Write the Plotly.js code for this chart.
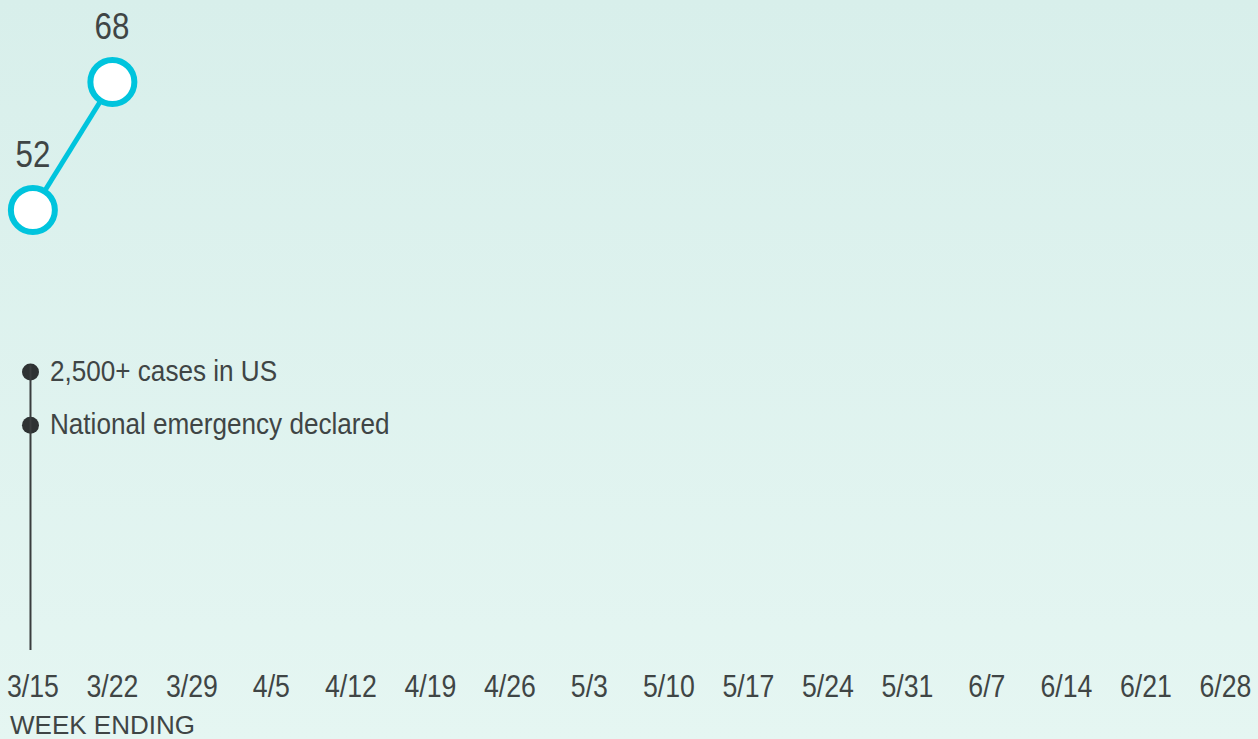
<!DOCTYPE html>
<html>
<head>
<meta charset="utf-8">
<script src="https://cdn.plot.ly/plotly-3.0.1.min.js"></script>
<style>
html,body{margin:0;padding:0;width:1258px;height:739px;overflow:hidden;
background:linear-gradient(to bottom,#d8efeb 0%,#e5f6f2 100%);}
#chart{width:1258px;height:739px;}
</style>
</head>
<body>
<div id="chart"></div>
<script>
const weeks = ['3/15','3/22','3/29','4/5','4/12','4/19','4/26','5/3','5/10','5/17','5/24','5/31','6/7','6/14','6/21','6/28'];
const seriesWeeks = ['3/15','3/22'];
const seriesValues = [52, 68];
const eventLabels = ['2,500+ cases in US','National emergency declared'];
const eventLevels = [31.75, 25.1];
const eventWeek = '3/15';

const FONT = '"Liberation Sans Narrow","Arial Narrow","Liberation Sans",Arial,sans-serif';
const TXT = '#3f4545';
const CYAN = '#00c4dd';

const xs = seriesWeeks.map(w => weeks.indexOf(w));

const trace = {
  x: xs,
  y: seriesValues,
  type: 'scatter',
  mode: 'lines+markers',
  line: {color: CYAN, width: 5},
  marker: {size: 44, color: '#ffffff', line: {color: CYAN, width: 6}},
  hoverinfo: 'none',
  cliponaxis: false
};

const ex = weeks.indexOf(eventWeek) - 0.03;
const eventTrace = {
  x: eventLevels.map(() => ex),
  y: eventLevels,
  type: 'scatter',
  mode: 'markers',
  marker: {size: 17, color: '#2e3233'},
  hoverinfo: 'none',
  cliponaxis: false
};

const valueAnn = seriesValues.map((v, i) => ({
  x: xs[i], y: v, xref: 'x', yref: 'y',
  text: String(v), showarrow: false, xanchor: 'center', yanchor: 'middle',
  yshift: 56,
  font: {family: FONT, size: 36, color: TXT}
}));

const eventAnn = eventLabels.map((t, i) => ({
  x: ex, y: eventLevels[i], xref: 'x', yref: 'y',
  text: t, showarrow: false, xanchor: 'left', yanchor: 'middle', align: 'left',
  xshift: 18, yshift: 1,
  font: {family: FONT, size: 29, color: TXT}
}));

const titleAnn = [{
  x: 0, y: 0, xref: 'paper', yref: 'paper',
  text: 'WEEK ENDING', showarrow: false, xanchor: 'left', yanchor: 'middle', align: 'left',
  xshift: 8, yshift: -75,
  font: {family: FONT, size: 26, color: TXT}
}];

const layout = {
  width: 1258, height: 739,
  margin: {l: 0, r: 0, t: 0, b: 89},
  paper_bgcolor: 'rgba(0,0,0,0)',
  plot_bgcolor: 'rgba(0,0,0,0)',
  showlegend: false,
  xaxis: {
    range: [-0.4135, 15.41],
    tickmode: 'array',
    tickvals: weeks.map((w, i) => i),
    ticktext: weeks,
    ticklabeloverflow: 'allow',
    showgrid: false, zeroline: false, showline: false,
    ticks: 'outside', ticklen: 9, tickcolor: 'rgba(0,0,0,0)',
    tickfont: {family: FONT, size: 31, color: TXT},
    fixedrange: true
  },
  yaxis: {
    range: [-3, 78.25],
    visible: false,
    fixedrange: true
  },
  shapes: [{
    type: 'line', xref: 'x', yref: 'y',
    x0: ex, x1: ex, y0: -3, y1: 32.6,
    line: {color: '#3a3d3e', width: 2}
  }],
  annotations: valueAnn.concat(eventAnn, titleAnn)
};

Plotly.newPlot('chart', [eventTrace, trace], layout, {staticPlot: true}).then(gd => {
  const squeeze = (nodes, f) => nodes.forEach(t => {
    const L = t.getComputedTextLength();
    t.setAttribute('textLength', (L * f).toFixed(1));
    t.setAttribute('lengthAdjust', 'spacingAndGlyphs');
  });
  squeeze(gd.querySelectorAll('.xtick text'), 0.86);
  const anns = gd.querySelectorAll('.annotation-text');
  anns.forEach((t, i) => {
    const f = i < valueAnn.length ? 0.87 : (i < valueAnn.length + eventAnn.length ? 0.9 : 1);
    if (f !== 1) squeeze([t], f);
  });
});
</script>
</body>
</html>
